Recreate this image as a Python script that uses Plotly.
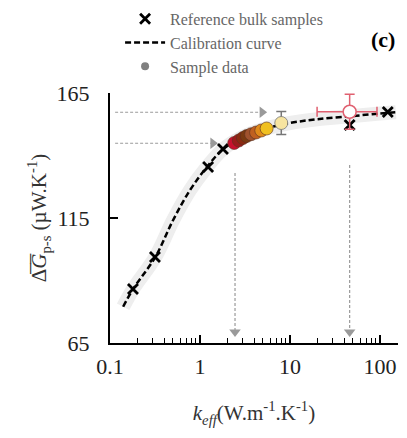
import plotly.graph_objects as go

# Reference bulk samples
ref_k = [0.18, 0.316, 1.23, 1.80, 46.0, 122.0]
ref_g = [86.6, 99.4, 135.4, 142.6, 152.2, 157.4]

# Calibration curve
cal_k = [0.14, 0.18, 0.32, 0.5, 0.77, 1.2, 1.8, 3.0, 5.0, 10.0, 20.0, 50.0, 100.0, 150.0]
cal_g = [79.5, 86.5, 99.5, 114.0, 126.0, 135.5, 142.5, 147.5, 150.5, 153.0, 154.5, 155.8, 156.8, 157.3]

# Sample data cluster
smp_k = [2.4, 2.7, 3.0, 3.3, 3.7, 4.2, 4.8, 5.5]
smp_g = [145.0, 146.0, 147.0, 147.8, 148.5, 149.2, 150.0, 150.8]
smp_col = ["#c8102e", "#9b1b1b", "#8b2a10", "#7a3a10", "#a0522d", "#c06020", "#e08a1a", "#f0c020"]

# Light yellow sample with error bar
ly_k = [8.0]
ly_g = [153.0]
ly_err = [4.6]

# Open red sample with error bars
or_k = [46.0]
or_g = [157.5]
or_err_y = [7.0]
or_err_plus = [46.6]
or_err_minus = [26.0]

# Guide arrows
h1_k = [0.114, 4.9]; h1_g = [157.3, 157.3]
h2_k = [0.114, 1.39]; h2_g = [144.9, 144.9]
v1_k = [2.45, 2.45]; v1_g = [133.0, 69.4]
v2_k = [46.0, 46.0]; v2_g = [136.2, 69.4]

FONT = "Liberation Serif"
fig = go.Figure()

# grey confidence band
fig.add_trace(go.Scatter(x=cal_k, y=cal_g, mode="lines", line=dict(color="#eeeeee", width=14, shape="spline"),
                         showlegend=False, hoverinfo="skip"))

arrow_col = "#9a9a9a"
for xs, ys, sym in [(h1_k, h1_g, "triangle-right"), (h2_k, h2_g, "triangle-right"),
                    (v1_k, v1_g, "triangle-down"), (v2_k, v2_g, "triangle-down")]:
    fig.add_trace(go.Scatter(x=xs, y=ys, mode="lines", line=dict(color=arrow_col, width=1.2, dash="3px,2px"),
                             showlegend=False, hoverinfo="skip"))
    fig.add_trace(go.Scatter(x=[xs[-1]], y=[ys[-1]], mode="markers",
                             marker=dict(symbol=sym, size=10, color=arrow_col),
                             showlegend=False, hoverinfo="skip"))

# calibration curve
fig.add_trace(go.Scatter(x=cal_k, y=cal_g, mode="lines", name="Calibration curve", legendrank=2,
                         line=dict(color="black", width=2.5, dash="6px,3px", shape="spline")))

# reference
fig.add_trace(go.Scatter(x=ref_k, y=ref_g, mode="markers", name="Reference bulk samples", legendrank=1,
                         marker=dict(symbol="x-thin", size=10, line=dict(width=2.8, color="black"), color="black")))

# samples
fig.add_trace(go.Scatter(x=smp_k, y=smp_g, mode="markers", showlegend=False,
                         marker=dict(size=13, color=smp_col, line=dict(width=0.6, color="#5a3020"))))
fig.add_trace(go.Scatter(x=ly_k, y=ly_g, mode="markers", showlegend=False,
                         error_y=dict(type="data", array=ly_err, color="#777777", thickness=1.5, width=5),
                         marker=dict(size=13, color="#f7e4a0", line=dict(width=0.8, color="#777777"))))
fig.add_trace(go.Scatter(x=or_k, y=or_g, mode="markers", showlegend=False,
                         error_y=dict(type="data", array=or_err_y, color="#e06070", thickness=1.5, width=5),
                         error_x=dict(type="data", array=or_err_plus, arrayminus=or_err_minus,
                                      color="#e06070", thickness=1.5, width=5),
                         marker=dict(size=13, color="white", line=dict(width=1.5, color="#e06070"))))
# legend entry for sample data
fig.add_trace(go.Scatter(x=[None], y=[None], mode="markers", name="Sample data", legendrank=3,
                         marker=dict(size=8, color="#808080")))

fig.update_layout(
    width=399, height=430,
    margin=dict(l=102, r=9, t=85, b=95, autoexpand=False),
    paper_bgcolor="white", plot_bgcolor="white",
    font=dict(family=FONT, color="black"),
    legend=dict(x=0.035, y=1.365, xanchor="left", yanchor="top", traceorder="normal",
                font=dict(size=16, color="#666666", family=FONT), bgcolor="rgba(0,0,0,0)",
                tracegroupgap=0, itemwidth=40),
    xaxis=dict(type="log", range=[-1, 2.2], tickvals=[0.1, 1, 10, 100], ticktext=["0.1", "1", "10", "100"],
               ticks="inside", ticklen=8, tickwidth=1.5, tickcolor="black",
               minor=dict(ticks="inside", ticklen=5, tickwidth=1.2, tickcolor="black", dtick="D1", showgrid=False),
               showline=True, linecolor="black", linewidth=2, showgrid=False, zeroline=False,
               tickfont=dict(size=22, family=FONT, color="#222222"), ticklabelstandoff=3,
               title=dict(text="<i>k<sub>eff</sub></i>(W.m<sup>-1</sup>.K<sup>-1</sup>)",
                          font=dict(size=21, family=FONT, color="#333333"), standoff=27)),
    yaxis=dict(range=[65, 165], tickvals=[65, 115, 165], ticks="inside", ticklen=8, tickwidth=1.5,
               tickcolor="black", showline=True, linecolor="black", linewidth=2, showgrid=False,
               zeroline=False, tickfont=dict(size=22, family=FONT, color="#222222"), ticklabelstandoff=14,
               title=dict(text="\u0394\u0305<i>G\u0305</i><sub>p-s</sub> (\u00b5W.K<sup>-1</sup>)",
                          font=dict(size=21, family=FONT, color="#333333"), standoff=4)),
    annotations=[dict(text="<b>(c)</b>", x=0.995, y=1.215, xref="paper", yref="paper", xanchor="right",
                      yanchor="middle", showarrow=False, font=dict(size=22, family=FONT, color="black"))],
)

fig.write_html("out.html")
